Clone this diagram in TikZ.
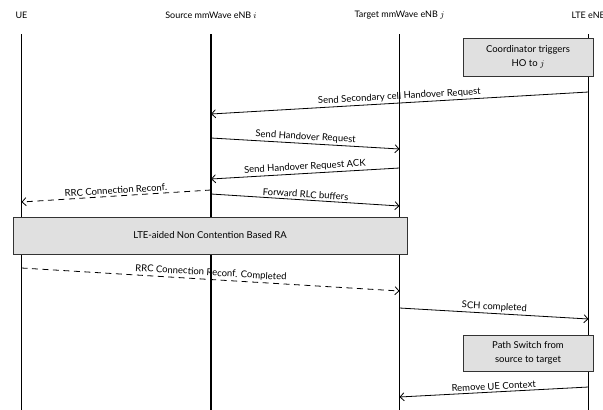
\documentclass[tikz,border=0pt]{standalone}
\usepackage{fontspec}
\setmainfont{Lato}
\usetikzlibrary{arrows, arrows.meta}
\usetikzlibrary{positioning}
\usetikzlibrary{calc}

\tikzset{
  lifeline/.style={line width=1.5pt},
  msg/.style={-{Straight Barb[length=4pt, width=8pt]}, line width=0.8pt},
  msgdash/.style={msg, dash pattern=on 6pt off 4.5pt},
  lbl/.style={midway, above, sloped, inner sep=1.8pt, font=\fontsize{9.5}{11}\selectfont},
  head/.style={font=\fontsize{9}{11}\selectfont},
  actbox/.style={draw=black!80, fill=black!12, line width=0.8pt, align=center, inner sep=0pt, font=\fontsize{9.5}{14}\selectfont},
}

\begin{document}
\begin{tikzpicture}[x=1pt, y=-1pt]
						\clip (0,0) rectangle (603,410);
						% headers
						\node[head] (ue) at (21.5,15) {UE};
						\node[head] (src) at (211,15) {Source mmWave eNB $i$};
						\node[head] (tgt) at (399.5,15) {Target mmWave eNB $j$};
						\node[head] (lte) at (588.5,15) {LTE eNB};
						% draw lifelines
						\foreach \n in {ue,src,tgt,lte}
							\draw[lifeline] (\n |- 0,34) -- (\n |- 0,412);
						% boxes
						\node[actbox, minimum width=130pt, minimum height=38pt] (coord) at (528,57) {Coordinator triggers\\HO to $j$};
						\node[actbox, minimum width=394pt, minimum height=37pt] (ra) at (210,235.5) {LTE-aided Non Contention Based RA};
						\node[actbox, minimum width=130pt, minimum height=36pt] (path) at (528,353) {Path Switch from\\source to target};
						% messages
						\draw[msg] (lte |- 0,92) -- (src |- 0,114) node[lbl] {Send Secondary cell Handover Request};
						\draw[msg] (src |- 0,138) -- (tgt |- 0,149) node[lbl] {Send Handover Request};
						\draw[msg] (tgt |- 0,168) -- (src |- 0,179) node[lbl] {Send Handover Request ACK};
						\draw[msgdash] (src |- 0,190) -- (ue |- 0,202) node[lbl] {RRC Connection Reconf.};
						\draw[msg] (src |- 0,194) -- (tgt |- 0,206) node[lbl] {Forward RLC buffers};
						\draw[msgdash] (ue |- 0,268) -- (tgt |- 0,291) node[lbl] {RRC Connection Reconf. Completed};
						\draw[msg] (tgt |- 0,308) -- (lte |- 0,319) node[lbl] {SCH completed};
						\draw[msg] (lte |- 0,387) -- (tgt |- 0,397) node[lbl] {Remove UE Context};
\end{tikzpicture}
\end{document}
